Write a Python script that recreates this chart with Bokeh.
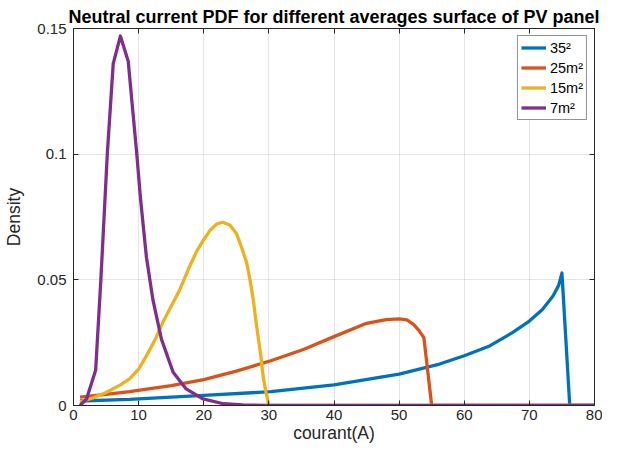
from bokeh.plotting import figure
from bokeh.models import (Range1d, LinearAxis, FixedTicker, Legend, LegendItem,
                          CustomJSTickFormatter)
from bokeh.embed import file_html
from bokeh.resources import INLINE

# ---- data ----
title_text = "Neutral current PDF for different averages surface of PV panel"
x_label = "courant(A)"
y_label = "Density"
x_ticks = [0, 10, 20, 30, 40, 50, 60, 70, 80]
y_ticks = [0, 0.05, 0.1, 0.15]
series_names = ["35\u00b2", "25m\u00b2", "15m\u00b2", "7m\u00b2"]

blue_x = [1, 8.6, 20, 30.3, 40, 50, 56.2, 60, 63.9, 67.4, 70, 72, 73.6, 74.5, 75, 76.2, 80]
blue_y = [0.0018, 0.0024, 0.0040, 0.0055, 0.0082, 0.0125, 0.0165, 0.0198, 0.0237, 0.0290,
          0.0336, 0.0382, 0.0435, 0.0478, 0.0527, 0, 0]

orange_x = [1, 5, 8.6, 15, 20, 25, 30.3, 35.4, 40, 45, 48, 50, 51.2, 52.2, 53, 53.8, 55, 80]
orange_y = [0.0033, 0.0044, 0.0055, 0.0079, 0.0103, 0.0137, 0.0178, 0.0224, 0.0274, 0.0327,
            0.0342, 0.0345, 0.0341, 0.0323, 0.0300, 0.0270, 0, 0]

yellow_x = [1, 3, 5, 7.2, 8.6, 10, 11.2, 12.5, 13.7, 15, 16.3, 17.6, 18.9, 20, 21, 22, 22.9,
            24, 25, 25.8, 26.6, 27.1, 27.6, 28, 28.4, 28.8, 29.1, 29.5, 30, 80]
yellow_y = [0.0015, 0.0030, 0.0052, 0.0082, 0.0106, 0.0145, 0.0198, 0.0260, 0.0330, 0.0395,
            0.0460, 0.0540, 0.0613, 0.0660, 0.0698, 0.0722, 0.0729, 0.0718, 0.0685, 0.0630,
            0.0567, 0.0500, 0.0422, 0.0340, 0.0264, 0.0190, 0.0119, 0.0060, 0, 0]

purple_x = [1, 2, 3.4, 4.2, 5.2, 6.1, 7.2, 8.4, 9.7, 10.3, 11.2, 12.2, 13.5, 15.3, 17.3,
            19.9, 23, 26, 30, 80]
purple_y = [0, 0.0026, 0.014, 0.050, 0.1005, 0.136, 0.147, 0.137, 0.1005, 0.082, 0.059,
            0.042, 0.0264, 0.0132, 0.0066, 0.0026, 0.0007, 0.0002, 0, 0]

colors = ["#0072BD", "#D95319", "#EDB120", "#7E2F8E"]

FONT = "Liberation Sans"
INK = "#262626"

p = figure(width=602, height=445, output_backend="svg", toolbar_location=None,
           x_range=Range1d(0, 80), y_range=Range1d(0, 0.15),
           min_border_left=73, min_border_right=8, min_border_top=28,
           min_border_bottom=40, title=title_text)
p.background_fill_color = "white"
p.border_fill_color = "white"
p.outline_line_color = None

p.title.align = "center"
p.title.text_font = FONT
p.title.text_font_size = "18px"
p.title.text_font_style = "bold"
p.title.text_color = "black"
p.title.standoff = 4

xt = FixedTicker(ticks=x_ticks)
yt = FixedTicker(ticks=y_ticks)
fmt = CustomJSTickFormatter(code="return String(Math.round(tick*1000)/1000);")
blank = CustomJSTickFormatter(code="return '';")


def style_axis(ax):
    ax.axis_line_color = INK
    ax.axis_line_width = 1
    ax.major_tick_line_color = INK
    ax.major_tick_line_width = 1
    ax.major_tick_in = 5
    ax.major_tick_out = 0
    ax.minor_tick_line_color = None
    ax.major_label_text_font = FONT
    ax.major_label_text_font_size = "15px"
    ax.major_label_text_color = INK
    ax.axis_label_text_font = FONT
    ax.axis_label_text_font_size = "17.5px"
    ax.axis_label_text_font_style = "normal"
    ax.axis_label_text_color = INK


xa = p.xaxis[0]
ya = p.yaxis[0]
xa.ticker = xt
ya.ticker = yt
xa.formatter = fmt
ya.formatter = fmt
style_axis(xa)
style_axis(ya)
xa.axis_label = x_label
ya.axis_label = y_label
xa.major_label_standoff = 4
ya.major_label_standoff = 7
xa.axis_label_standoff = 0
ya.axis_label_standoff = 10

top = LinearAxis(ticker=xt, formatter=blank)
right = LinearAxis(ticker=yt, formatter=blank)
for ax in (top, right):
    style_axis(ax)
    ax.major_label_text_font_size = "0px"
    ax.major_label_standoff = 0
p.add_layout(top, "above")
p.add_layout(right, "right")

p.xgrid.ticker = xt
p.ygrid.ticker = yt
for g in (p.xgrid[0], p.ygrid[0]):
    g.grid_line_color = INK
    g.grid_line_alpha = 0.12
    g.grid_line_width = 1

renderers = []
for xs, ys, c in [(blue_x, blue_y, colors[0]), (orange_x, orange_y, colors[1]),
                  (yellow_x, yellow_y, colors[2]), (purple_x, purple_y, colors[3])]:
    r = p.line(xs, ys, line_color=c, line_width=3.3, line_join="round", line_cap="butt")
    renderers.append(r)

legend = Legend(items=[LegendItem(label=n, renderers=[r]) for n, r in zip(series_names, renderers)],
                location="top_right")
legend.margin = 7
legend.padding = 3
legend.spacing = 3
legend.glyph_width = 25
legend.glyph_height = 17
legend.label_height = 17
legend.label_standoff = 4
legend.label_text_font = FONT
legend.label_text_font_size = "14.5px"
legend.label_text_color = "black"
legend.border_line_color = INK
legend.border_line_width = 1
legend.background_fill_color = "white"
legend.background_fill_alpha = 1
p.add_layout(legend)

open("out.html", "w").write(file_html(p, INLINE))
